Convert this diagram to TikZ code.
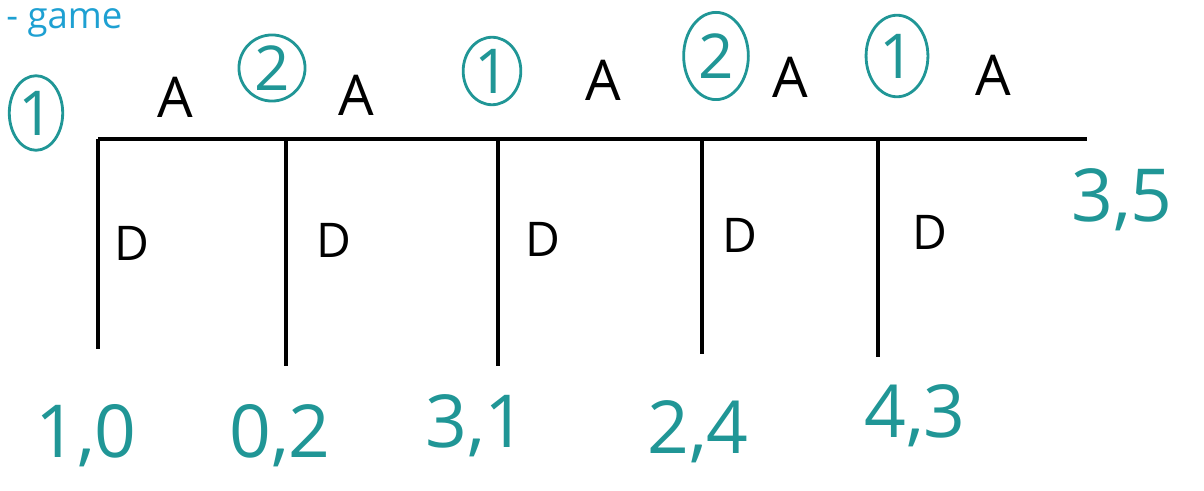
\documentclass[tikz,border=0pt]{standalone}
\usepackage{fontspec}
\usetikzlibrary{shapes.geometric}
\setmainfont{Open Sans}
\definecolor{teal1}{RGB}{32,150,150}
\definecolor{blue1}{RGB}{30,160,210}
\begin{document}
\begin{tikzpicture}[x=0.025cm,y=-0.025cm,
  tree/.style={line width=2.2pt,black},
  act/.style={font=\fontsize{40}{40}\selectfont,inner sep=0pt,text=black},
  pay/.style={font=\fontsize{52}{52}\selectfont,inner sep=0pt,text=teal1},
  player/.style={draw=teal1,line width=2pt,ellipse,inner sep=0pt,minimum width=44pt,minimum height=50pt,font=\fontsize{44}{44}\selectfont,text=teal1},
]
\useasboundingbox (0,0) rectangle (1204,491);
% title
\node[text=blue1,font=\fontsize{26}{26}\selectfont,anchor=north west,inner sep=0pt] (title) at (6,8) {- game};
% main line
\coordinate (s0) at (98,139);
\coordinate (s1) at (286,139);
\coordinate (s2) at (498,139);
\coordinate (s3) at (702,139);
\coordinate (s4) at (878,139);
\coordinate (end) at (1087,139);
\coordinate (d0) at (98,349);
\coordinate (d1) at (286,366);
\coordinate (d2) at (498,366);
\coordinate (d3) at (702,354);
\coordinate (d4) at (878,357);
\draw[tree] (s0) -- (end);
\draw[tree] (s0) -- (d0);
\draw[tree] (s1) -- (d1);
\draw[tree] (s2) -- (d2);
\draw[tree] (s3) -- (d3);
\draw[tree] (s4) -- (d4);
% actions
\node[act] (a0) at (175,97) {A};
\node[act] (a1) at (356,95) {A};
\node[act] (a2) at (603,80) {A};
\node[act] (a3) at (790,77) {A};
\node[act] (a4) at (993,75) {A};
\node[act,font=\fontsize{34}{34}\selectfont] (dd0) at (132,243) {D};
\node[act,font=\fontsize{34}{34}\selectfont] (dd1) at (334,240) {D};
\node[act,font=\fontsize{34}{34}\selectfont] (dd2) at (543,239) {D};
\node[act,font=\fontsize{34}{34}\selectfont] (dd3) at (740,235) {D};
\node[act,font=\fontsize{34}{34}\selectfont] (dd4) at (930,232) {D};
% players
\node[player,minimum width=38pt,minimum height=53pt] (p0) at (36,113) {1};
\node[player,minimum width=47pt,minimum height=47pt] (p1) at (272,68) {2};
\node[player,minimum width=41pt,minimum height=48pt] (p2) at (492,71) {1};
\node[player,minimum width=46pt,minimum height=62pt] (p3) at (716,56) {2};
\node[player,minimum width=44pt,minimum height=58pt] (p4) at (897,56) {1};
% payoffs
\node[pay] (u0) at (86,436) {1,0};
\node[pay] (u1) at (280,436) {0,2};
\node[pay] (u2) at (476,426) {3,1};
\node[pay] (u3) at (698,432) {2,4};
\node[pay] (u4) at (915,416) {4,3};
\node[pay] (u5) at (1122,200) {3,5};
\end{tikzpicture}
\end{document}
